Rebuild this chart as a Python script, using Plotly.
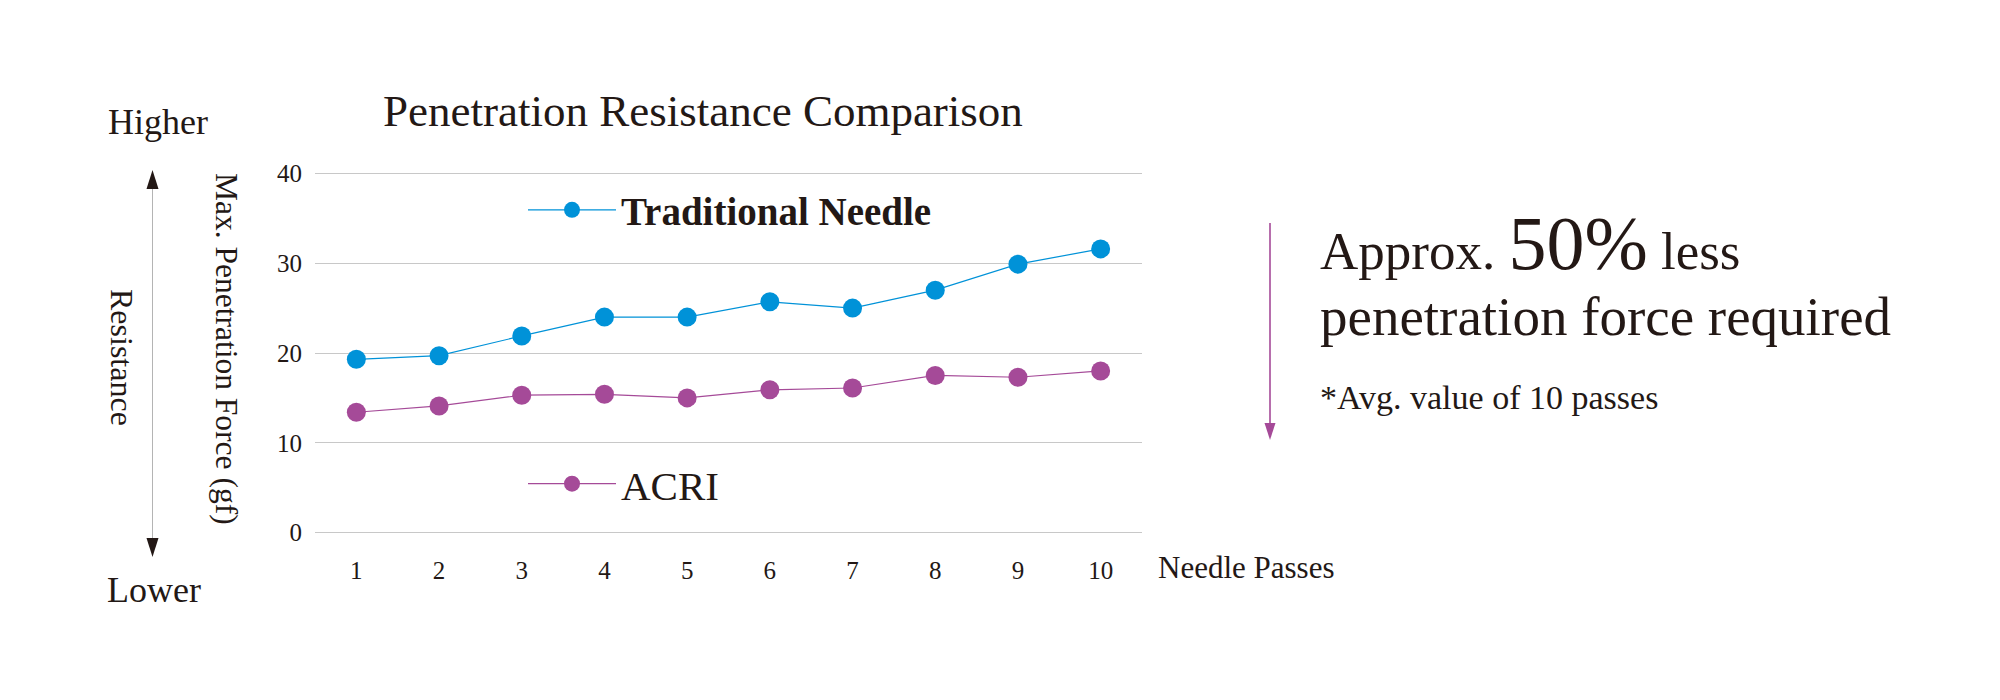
import plotly.graph_objects as go

# ---- data ----
passes = [1, 2, 3, 4, 5, 6, 7, 8, 9, 10]
traditional = [19.3, 19.7, 21.9, 24.0, 24.0, 25.7, 25.0, 27.0, 29.9, 31.6]
acri = [13.4, 14.1, 15.3, 15.4, 15.0, 15.9, 16.1, 17.5, 17.3, 18.0]
y_ticks = [0, 10, 20, 30, 40]
series_names = ["Traditional Needle", "ACRI"]

# ---- style ----
SERIF = "Liberation Serif"
TXT = "#231815"
BLUE = "#0092d8"
PURPLE = "#a54a98"
GRID = "#c8c8c8"

OFF = 8  # page body margin
W, H = 2000 - 2 * OFF, 700 - 2 * OFF
L, T = 315 - OFF, 169 - OFF
R = W - (1142 - OFF)
B = H - (537 - OFF)
PW, PH = W - L - R, H - T - B


def px(xp):
    return (xp - OFF - L) / PW


def py(yp):
    return (H - B - (yp - OFF)) / PH


fig = go.Figure()
fig.add_trace(go.Scatter(
    x=passes, y=traditional, mode="lines+markers", name=series_names[0],
    line=dict(color=BLUE, width=1.2), marker=dict(size=19, color=BLUE),
    legend="legend", showlegend=True))
fig.add_trace(go.Scatter(
    x=passes, y=acri, mode="lines+markers", name=series_names[1],
    line=dict(color=PURPLE, width=1.2), marker=dict(size=19, color=PURPLE),
    legend="legend2", showlegend=True))

annotations = []


def txt(text, xp, yp, size, xanchor="left", angle=0, yanchor="middle"):
    annotations.append(dict(
        text=text, x=px(xp), y=py(yp), xref="paper", yref="paper",
        xanchor=xanchor, yanchor=yanchor, showarrow=False, textangle=angle,
        font=dict(family=SERIF, size=size, color=TXT)))


txt("Penetration Resistance Comparison", 703, 111, 45, xanchor="center")
txt("Higher", 158, 122, 36, xanchor="center")
txt("Lower", 154, 590, 36, xanchor="center")
txt("Resistance", 122, 357, 32, xanchor="center", angle=90)
txt("Max. Penetration Force (gf)", 227, 349, 31.5, xanchor="center", angle=90)
txt("Needle Passes", 1156, 567, 31)
txt("Approx. <span style='font-size:76px'>50%</span> less", 1318, 243, 53)
txt("penetration force required", 1318, 316, 55)
txt("*Avg. value of 10 passes", 1318, 397, 34)

shapes = []
# left double arrow: grey shaft, dark heads
shapes.append(dict(type="line", xref="paper", yref="paper",
                   x0=px(152.5), x1=px(152.5), y0=py(185), y1=py(540),
                   line=dict(color="#b4b4b4", width=1)))


def tri(tipx, tipy, basey, half, color):
    return dict(type="path", xref="paper", yref="paper",
                path=f"M {px(tipx)},{py(tipy)} L {px(tipx - half)},{py(basey)} "
                     f"L {px(tipx + half)},{py(basey)} Z",
                fillcolor=color, line=dict(color=color, width=0))


shapes.append(tri(152.5, 170, 189, 6, TXT))
shapes.append(tri(152.5, 557, 538, 6, TXT))
# purple down arrow
shapes.append(dict(type="line", xref="paper", yref="paper",
                   x0=px(1270), x1=px(1270), y0=py(223), y1=py(428),
                   line=dict(color=PURPLE, width=1.6)))
shapes.append(tri(1270, 440, 423, 5.5, PURPLE))

fig.update_layout(
    width=W, height=H,
    margin=dict(l=L, r=R, t=T, b=B),
    paper_bgcolor="white", plot_bgcolor="white",
    font=dict(family=SERIF, color=TXT),
    showlegend=True,
    xaxis=dict(range=[0.5, 10.5], tickvals=passes, showgrid=False,
               zeroline=False, showline=False, ticks="",
               tickfont=dict(family=SERIF, size=25, color=TXT),
               ticklabelstandoff=16),
    yaxis=dict(range=[-0.5, 40.5], tickvals=y_ticks, showgrid=True,
               gridcolor=GRID, gridwidth=1, zeroline=False, showline=False,
               ticks="", tickfont=dict(family=SERIF, size=25, color=TXT),
               ticklabelstandoff=12),
    legend=dict(x=px(523), y=py(210), xanchor="left", yanchor="middle",
                bgcolor="rgba(0,0,0,0)", itemwidth=88,
                font=dict(family=SERIF, size=39, color=TXT, weight="bold")),
    legend2=dict(x=px(523), y=py(484), xanchor="left", yanchor="middle",
                 bgcolor="rgba(0,0,0,0)", itemwidth=88,
                 font=dict(family=SERIF, size=41, color=TXT)),
    annotations=annotations,
    shapes=shapes,
)

fig.write_html("out.html")
